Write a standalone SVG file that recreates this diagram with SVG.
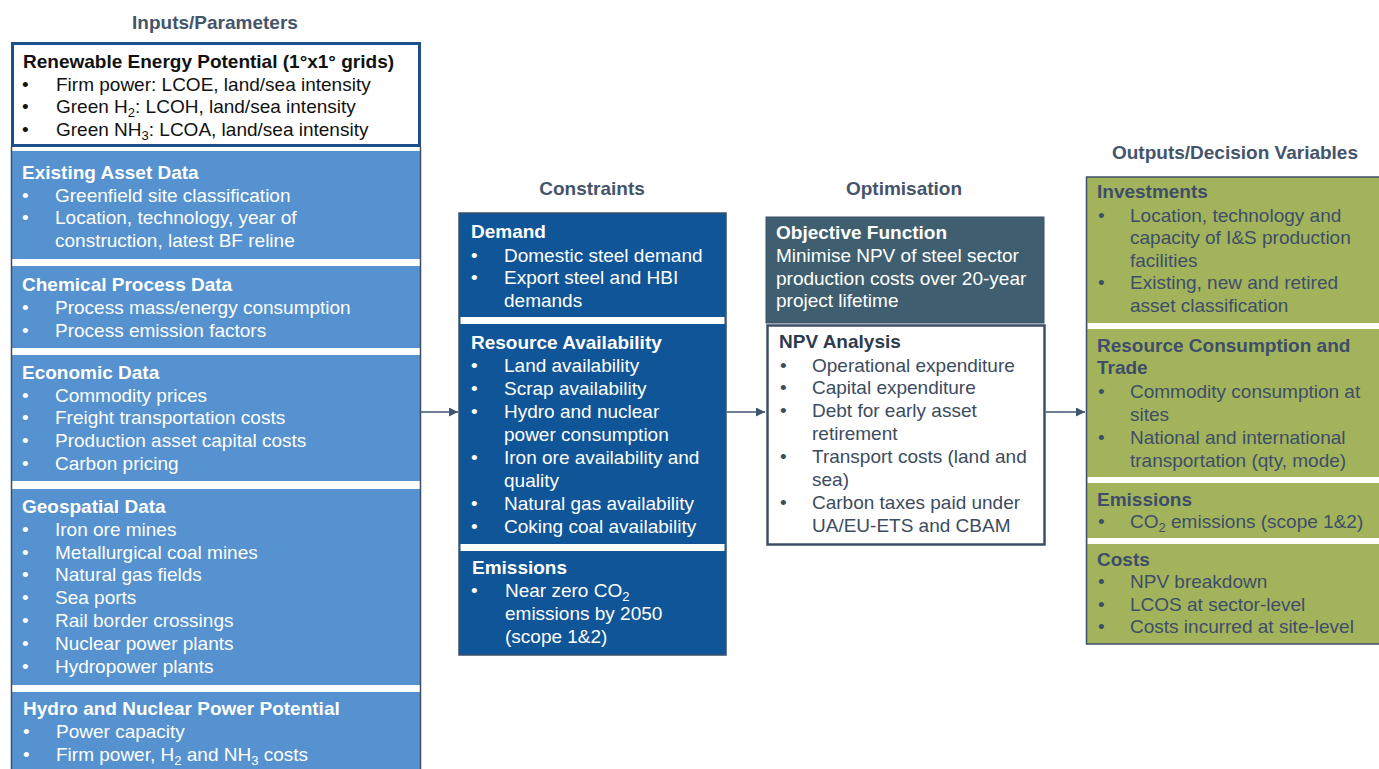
<svg xmlns="http://www.w3.org/2000/svg" width="1379" height="769" viewBox="0 0 1379 769">
<defs>
<style>
text{font-family:"Liberation Sans",Arial,sans-serif;font-size:19px}
.hdr{font-weight:bold;fill:#44546a;text-anchor:middle}
.b{font-weight:bold}
.w{fill:#ffffff}
.k{fill:#111111}
.o{fill:#3e4e69}
.n{fill:#3d4b5e}
.lb{fill:#5592cf}
.db{fill:#0f5597}
.ol{fill:#a2b35b}
.band{fill:#ffffff}
.edge{fill:none;stroke:#3c5068;stroke-width:1.5}
.conn{stroke:#3c5670;stroke-width:1.5;fill:none}
</style>
<marker id="ah" viewBox="0 0 10 10" refX="10" refY="5" markerWidth="9" markerHeight="9" markerUnits="userSpaceOnUse" orient="auto">
<path d="M0,0 L10,5 L0,10 Z" fill="#3c5670"/>
</marker>
</defs>
<rect width="1379" height="769" fill="#ffffff"/>

<g id="headers">
<text class="hdr" x="215" y="29">Inputs/Parameters</text>
<text class="hdr" x="592" y="195">Constraints</text>
<text class="hdr" x="904" y="195">Optimisation</text>
<text class="hdr" x="1235" y="159">Outputs/Decision Variables</text>
</g>

<g id="inputs">
<rect x="12" y="148" width="408" height="630" class="band"/>
<rect x="12" y="151" width="408" height="108" class="lb"/>
<rect x="12" y="266" width="408" height="82" class="lb"/>
<rect x="12" y="355" width="408" height="126" class="lb"/>
<rect x="12" y="489" width="408" height="196" class="lb"/>
<rect x="12" y="692" width="408" height="90" class="lb"/>
<path class="edge" d="M11.5,147 V775 M420.5,147 V775"/>
</g>

<g id="renewable">
<rect x="12.5" y="43.5" width="407" height="102" fill="#ffffff" stroke="#1f4f8a" stroke-width="3"/>
<text class="k b" x="23" y="68">Renewable Energy Potential (1°x1° grids)</text>
<text class="k" x="22" y="91">•</text><text class="k" x="56" y="91">Firm power: LCOE, land/sea intensity</text>
<text class="k" x="22" y="113">•</text><text class="k" x="56" y="113">Green H<tspan font-size="13" dy="4">2</tspan><tspan dy="-4">: LCOH, land/sea intensity</tspan></text>
<text class="k" x="22" y="136">•</text><text class="k" x="56" y="136">Green NH<tspan font-size="13" dy="4">3</tspan><tspan dy="-4">: LCOA, land/sea intensity</tspan></text>
</g>

<g id="existing-asset">
<text class="w b" x="22" y="179">Existing Asset Data</text>
<text class="w" x="22" y="202">•</text><text class="w" x="55" y="202">Greenfield site classification</text>
<text class="w" x="22" y="224">•</text><text class="w" x="55" y="224">Location, technology, year of</text>
<text class="w" x="55" y="247">construction, latest BF reline</text>
</g>

<g id="chemical">
<text class="w b" x="22" y="291">Chemical Process Data</text>
<text class="w" x="22" y="314">•</text><text class="w" x="55" y="314">Process mass/energy consumption</text>
<text class="w" x="22" y="337">•</text><text class="w" x="55" y="337">Process emission factors</text>
</g>

<g id="economic">
<text class="w b" x="22" y="379">Economic Data</text>
<text class="w" x="22" y="402">•</text><text class="w" x="55" y="402">Commodity prices</text>
<text class="w" x="22" y="424">•</text><text class="w" x="55" y="424">Freight transportation costs</text>
<text class="w" x="22" y="447">•</text><text class="w" x="55" y="447">Production asset capital costs</text>
<text class="w" x="22" y="470">•</text><text class="w" x="55" y="470">Carbon pricing</text>
</g>

<g id="geospatial">
<text class="w b" x="22" y="513">Geospatial Data</text>
<text class="w" x="22" y="536">•</text><text class="w" x="55" y="536">Iron ore mines</text>
<text class="w" x="22" y="559">•</text><text class="w" x="55" y="559">Metallurgical coal mines</text>
<text class="w" x="22" y="581">•</text><text class="w" x="55" y="581">Natural gas fields</text>
<text class="w" x="22" y="604">•</text><text class="w" x="55" y="604">Sea ports</text>
<text class="w" x="22" y="627">•</text><text class="w" x="55" y="627">Rail border crossings</text>
<text class="w" x="22" y="650">•</text><text class="w" x="55" y="650">Nuclear power plants</text>
<text class="w" x="22" y="673">•</text><text class="w" x="55" y="673">Hydropower plants</text>
</g>

<g id="hydro-nuclear">
<text class="w b" x="23" y="715">Hydro and Nuclear Power Potential</text>
<text class="w" x="23" y="738">•</text><text class="w" x="56" y="738">Power capacity</text>
<text class="w" x="23" y="761">•</text><text class="w" x="56" y="761">Firm power, H<tspan font-size="13" dy="4">2</tspan><tspan dy="-4"> and NH</tspan><tspan font-size="13" dy="4">3</tspan><tspan dy="-4"> costs</tspan></text>
</g>

<g id="constraints">
<rect x="459" y="213" width="267" height="442" class="db"/>
<rect x="460.5" y="317" width="264" height="7" class="band"/>
<rect x="460.5" y="544" width="264" height="7" class="band"/>
<rect x="459" y="213" width="267" height="442" class="edge" stroke-width="1"/>
<text class="w b" x="471" y="238">Demand</text>
<text class="w" x="471" y="262">•</text><text class="w" x="504" y="262">Domestic steel demand</text>
<text class="w" x="471" y="284">•</text><text class="w" x="504" y="284">Export steel and HBI</text>
<text class="w" x="504" y="307">demands</text>
<text class="w b" x="471" y="349">Resource Availability</text>
<text class="w" x="471" y="372">•</text><text class="w" x="504" y="372">Land availability</text>
<text class="w" x="471" y="395">•</text><text class="w" x="504" y="395">Scrap availability</text>
<text class="w" x="471" y="418">•</text><text class="w" x="504" y="418">Hydro and nuclear</text>
<text class="w" x="504" y="441">power consumption</text>
<text class="w" x="471" y="464">•</text><text class="w" x="504" y="464">Iron ore availability and</text>
<text class="w" x="504" y="487">quality</text>
<text class="w" x="471" y="510">•</text><text class="w" x="504" y="510">Natural gas availability</text>
<text class="w" x="471" y="533">•</text><text class="w" x="504" y="533">Coking coal availability</text>
<text class="w b" x="472" y="574">Emissions</text>
<text class="w" x="471" y="597">•</text><text class="w" x="505" y="597">Near zero CO<tspan font-size="13" dy="4">2</tspan></text>
<text class="w" x="505" y="620">emissions by 2050</text>
<text class="w" x="505" y="643">(scope 1&amp;2)</text>
</g>

<g id="objective">
<rect x="766" y="217" width="278" height="106" fill="#3f5f70" stroke="#3c5068" stroke-width="1"/>
<text class="w b" x="776" y="239">Objective Function</text>
<text class="w" x="776" y="262">Minimise NPV of steel sector</text>
<text class="w" x="776" y="285">production costs over 20-year</text>
<text class="w" x="776" y="307">project lifetime</text>
</g>

<g id="npv">
<rect x="767.5" y="325.5" width="277" height="219" fill="#ffffff" stroke="#3c4f66" stroke-width="2.5"/>
<text class="b" fill="#2e3b4e" x="779" y="348">NPV Analysis</text>
<text class="n" x="780" y="372">•</text><text class="n" x="812" y="372">Operational expenditure</text>
<text class="n" x="780" y="394">•</text><text class="n" x="812" y="394">Capital expenditure</text>
<text class="n" x="780" y="417">•</text><text class="n" x="812" y="417">Debt for early asset</text>
<text class="n" x="812" y="440">retirement</text>
<text class="n" x="780" y="463">•</text><text class="n" x="812" y="463">Transport costs (land and</text>
<text class="n" x="812" y="486">sea)</text>
<text class="n" x="780" y="509">•</text><text class="n" x="812" y="509">Carbon taxes paid under</text>
<text class="n" x="812" y="532">UA/EU-ETS and CBAM</text>
</g>

<g id="outputs">
<rect x="1086" y="177" width="300" height="467" class="ol"/>
<rect x="1087.5" y="323" width="300" height="6" class="band"/>
<rect x="1087.5" y="477" width="300" height="6" class="band"/>
<rect x="1087.5" y="538" width="300" height="6" class="band"/>
<rect x="1086.5" y="177" width="300" height="467" class="edge" stroke-width="1.5"/>
<text class="o b" x="1097" y="198">Investments</text>
<text class="o" x="1098" y="222">•</text><text class="o" x="1130" y="222">Location, technology and</text>
<text class="o" x="1130" y="244">capacity of I&amp;S production</text>
<text class="o" x="1130" y="267">facilities</text>
<text class="o" x="1098" y="289">•</text><text class="o" x="1130" y="289">Existing, new and retired</text>
<text class="o" x="1130" y="312">asset classification</text>
<text class="o b" x="1097" y="352">Resource Consumption and</text>
<text class="o b" x="1097" y="374">Trade</text>
<text class="o" x="1098" y="398">•</text><text class="o" x="1130" y="398">Commodity consumption at</text>
<text class="o" x="1130" y="421">sites</text>
<text class="o" x="1098" y="444">•</text><text class="o" x="1130" y="444">National and international</text>
<text class="o" x="1130" y="467">transportation (qty, mode)</text>
<text class="o b" x="1097" y="506">Emissions</text>
<text class="o" x="1098" y="528">•</text><text class="o" x="1130" y="528">CO<tspan font-size="13" dy="4">2</tspan><tspan dy="-4"> emissions (scope 1&amp;2)</tspan></text>
<text class="o b" x="1097" y="566">Costs</text>
<text class="o" x="1098" y="588">•</text><text class="o" x="1130" y="588">NPV breakdown</text>
<text class="o" x="1098" y="611">•</text><text class="o" x="1130" y="611">LCOS at sector-level</text>
<text class="o" x="1098" y="633">•</text><text class="o" x="1130" y="633">Costs incurred at site-level</text>
</g>

<g id="connectors">
<line class="conn" x1="421" y1="412" x2="458" y2="412" marker-end="url(#ah)"/>
<line class="conn" x1="727" y1="412" x2="765" y2="412" marker-end="url(#ah)"/>
<line class="conn" x1="1046" y1="412" x2="1085" y2="412" marker-end="url(#ah)"/>
</g>
</svg>
